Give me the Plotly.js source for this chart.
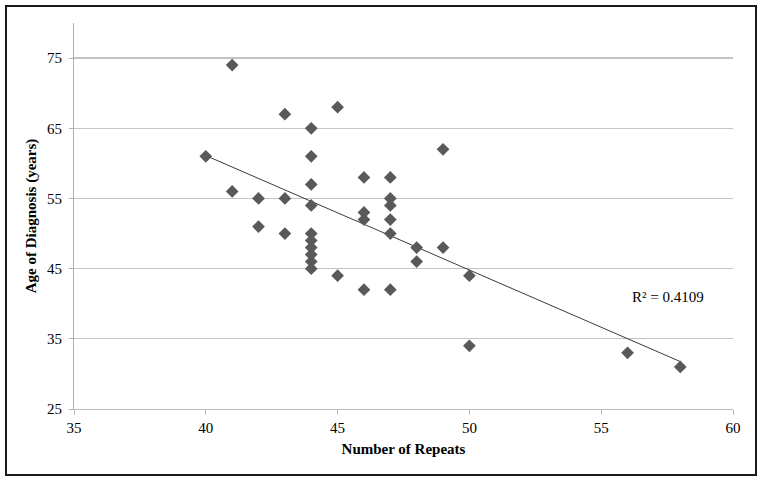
<!DOCTYPE html>
<html>
<head>
<meta charset="utf-8">
<script src="https://cdn.plot.ly/plotly-3.0.1.min.js"></script>
<style>
  body { margin: 0; background: #fff; }
  #plot { width: 763px; height: 482px; }
  #frame {
    position: absolute; left: 5px; top: 5px;
    width: 748px; height: 467px;
    border: 2px solid #1a1a1a;
    pointer-events: none;
  }
</style>
</head>
<body>
<div id="plot"></div>
<div id="frame"></div>
<script>
// number of repeats vs age of diagnosis
let repeats = [40, 41, 41, 42, 42, 43, 43, 43,
    44, 44, 44, 44, 44, 44, 44, 44, 44, 44,
    45, 45, 46, 46, 46, 46,
    47, 47, 47, 47, 47, 47,
    48, 48, 49, 49, 50, 50, 56, 58];
let ages = [61, 74, 56, 55, 51, 67, 55, 50,
    65, 61, 57, 54, 50, 49, 48, 47, 46, 45,
    68, 44, 58, 53, 52, 42,
    58, 55, 54, 52, 50, 42,
    48, 46, 62, 48, 44, 34, 33, 31];
let yTicks = [25, 35, 45, 55, 65, 75];
let xTicks = [35, 40, 45, 50, 55, 60];
let rSquaredLabel = 'R² = 0.4109';

// least squares fit for the trendline
let n = repeats.length;
let mx = repeats.reduce((a, b) => a + b, 0) / n;
let my = ages.reduce((a, b) => a + b, 0) / n;
let sxy = 0, sxx = 0;
for (let i = 0; i < n; i++) {
    sxy += (repeats[i] - mx) * (ages[i] - my);
    sxx += (repeats[i] - mx) * (repeats[i] - mx);
}
let slope = sxy / sxx;
let intercept = my - slope * mx;
let xmin = Math.min(...repeats), xmax = Math.max(...repeats);

let fitTrace = {
    x: [xmin, xmax],
    y: [intercept + slope * xmin, intercept + slope * xmax],
    mode: 'lines',
    line: {color: '#3a3a3a', width: 1},
    hoverinfo: 'skip',
    type: 'scatter'
};

let pointTrace = {
    x: repeats,
    y: ages,
    mode: 'markers',
    marker: {symbol: 'diamond', size: 9.8, color: '#595959'},
    type: 'scatter'
};

let font = {family: '"Liberation Serif", "Times New Roman", serif', size: 15, color: '#000'};

let layout = {
    width: 763,
    height: 482,
    showlegend: false,
    paper_bgcolor: '#fff',
    plot_bgcolor: '#fff',
    font: font,
    margin: {l: 74, r: 30, t: 23, b: 73, pad: 0},
    xaxis: {
        range: [35, 60],
        tickvals: xTicks,
        showgrid: false,
        zeroline: false,
        showline: true,
        linecolor: '#bdbdbd',
        linewidth: 1.3,
        ticks: 'outside',
        ticklen: 5,
        tickcolor: '#bdbdbd',
        tickfont: font,
        title: {text: '<b>Number of Repeats</b>', font: font, standoff: 8}
    },
    yaxis: {
        range: [25, 80],
        tickvals: yTicks,
        showgrid: true,
        gridcolor: '#c4c4c4',
        gridwidth: 1.3,
        zeroline: false,
        showline: true,
        linecolor: '#b0b0b0',
        linewidth: 1,
        ticks: 'outside',
        ticklen: 4,
        tickcolor: '#b0b0b0',
        ticklabelstandoff: 4,
        tickfont: font,
        title: {text: '<b>Age of Diagnosis (years)</b>', font: font, standoff: 6}
    },
    annotations: [{
        x: 57.52, y: 40.9, xref: 'x', yref: 'y',
        text: rSquaredLabel,
        showarrow: false,
        font: font
    }]
};

Plotly.newPlot('plot', [fitTrace, pointTrace], layout, {staticPlot: true});
</script>
</body>
</html>
